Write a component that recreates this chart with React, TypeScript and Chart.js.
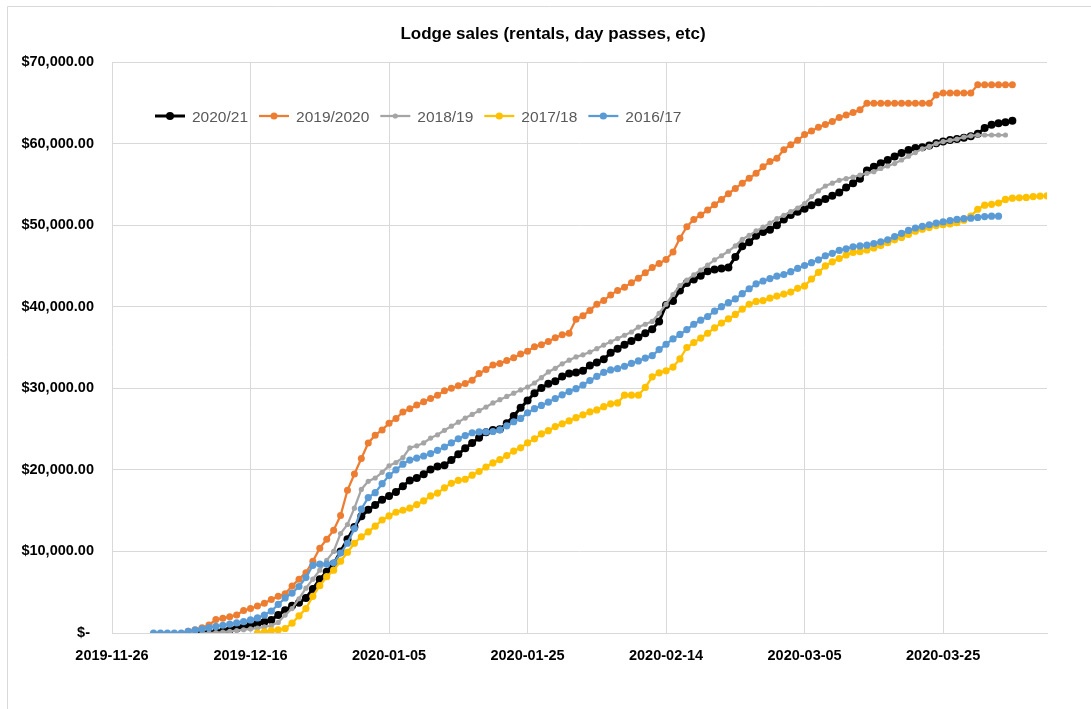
import React, { useEffect, useRef } from "react";
import { Chart, registerables } from "chart.js";

Chart.register(...registerables);

// ---- axis setup ----
const baseDateUTC = Date.UTC(2019, 10, 26); // day 0 = 2019-11-26
const xTickStep = 20; // days between date labels
const xMaxDay = 135;
const yMax = 70000;
const yStep = 10000;

const chartTitle = "Lodge sales (rentals, day passes, etc)";
const seriesNames = ["2020/21", "2019/2020", "2018/19", "2017/18", "2016/17"];
const seriesColors = ["#000000", "#ED7D31", "#A5A5A5", "#FFC000", "#5B9BD5"];

// ---- data: cumulative sales, one value per day, starting at the given day offset ----
const start2020_21 = 13;
const sales2020_21 = [
  0, 0, 100, 200, 400, 550, 750, 950, 1150, 1350,
  1600, 2200, 2800, 3350, 3700, 4300, 5400, 6600, 7500, 8500,
  10000, 11500, 13000, 14300, 15100, 15700, 16350, 16800, 17300, 18000,
  18700, 19000, 19450, 20050, 20400, 20550, 21200, 21900, 22650, 23300,
  23950, 24600, 24880, 24970, 25700, 26600, 27600, 28500, 29400, 30050,
  30550, 30850, 31450, 31800, 31950, 32150, 32800, 33150, 33550, 34350,
  34850, 35350, 35800, 36250, 36750, 37250, 38200, 40200, 40700, 42000,
  42900, 43350, 43800, 44350, 44550, 44700, 44800, 46100, 47400, 47900,
  48700, 49150, 49450, 50000, 50700, 51250, 51650, 52000, 52450, 52800,
  53200, 53600, 54000, 54600, 55150, 55700, 56700, 57150, 57600, 58000,
  58400, 58850, 59200, 59450, 59550, 59750, 60050, 60250, 60450, 60550,
  60700, 60900, 61200, 61900, 62300, 62500, 62600, 62800,
];

const start2019_2020 = 11;
const sales2019_2020 = [
  200, 400, 650, 980, 1650, 1800, 2000, 2200, 2750, 3000,
  3300, 3650, 4100, 4500, 4800, 5750, 6600, 7400, 8800, 10400,
  11500, 12600, 14400, 17500, 19500, 21400, 23300, 24250, 24900, 25700,
  26300, 27100, 27500, 27950, 28350, 28750, 29150, 29700, 30000, 30300,
  30600, 31000, 31800, 32300, 32850, 33050, 33400, 33750, 34200, 34550,
  35100, 35350, 35750, 36200, 36550, 36750, 38450, 38900, 39550, 40300,
  40750, 41450, 42000, 42400, 42950, 43500, 44150, 44800, 45300, 45800,
  46700, 48400, 49800, 50700, 51250, 51850, 52500, 53150, 53850, 54500,
  55150, 55750, 56350, 57150, 57800, 58200, 59250, 59850, 60400, 61100,
  61550, 62000, 62350, 62700, 63200, 63500, 63800, 64150, 64950, 64950,
  64950, 64950, 64950, 64950, 64950, 64950, 64950, 64950, 65950, 66200,
  66200, 66200, 66200, 66200, 67200, 67200, 67200, 67200, 67200, 67200,
];

const start2018_19 = 13;
const sales2018_19 = [
  0, 0, 50, 100, 200, 300, 400, 500, 600, 750,
  900, 1300, 2200, 3000, 4200, 5500, 6600, 7700, 8900, 10000,
  12200, 13300, 15300, 17600, 18600, 19000, 19700, 20500, 20900, 21500,
  22700, 22950, 23300, 23900, 24300, 24850, 25350, 25850, 26350, 26800,
  27250, 27700, 28200, 28600, 29000, 29400, 29800, 30150, 30650, 31300,
  32000, 32450, 33000, 33450, 33850, 34100, 34450, 34850, 35300, 35700,
  36100, 36500, 36900, 37500, 37850, 38200, 39200, 40300, 41500, 42600,
  43250, 43900, 44500, 45100, 45750, 46250, 46800, 47450, 48250, 48750,
  49300, 49750, 50250, 50800, 51200, 51650, 52100, 52650, 53500, 54200,
  54800, 55150, 55500, 55700, 55900, 56150, 56350, 56550, 56950, 57250,
  57550, 58000, 58450, 58900, 59350, 59650, 60000, 60250, 60400, 60550,
  60800, 60950, 61050, 61050, 61050, 61050, 61050,
];

const start2017_18 = 21;
const sales2017_18 = [
  0, 150, 280, 380, 550, 1200, 2100, 3000, 4500, 5800,
  6900, 7700, 8800, 9900, 11000, 11800, 12400, 13100, 13850, 14350,
  14800, 15050, 15300, 15750, 16200, 16800, 17150, 17800, 18350, 18700,
  18850, 19350, 19800, 20350, 20850, 21250, 21750, 22300, 22700, 23300,
  23800, 24400, 24800, 25300, 25650, 26000, 26400, 26750, 27100, 27350,
  27750, 28100, 28200, 29150, 29150, 29150, 30100, 31400, 31900, 32150,
  32600, 33600, 35000, 35600, 36150, 36750, 37400, 38000, 38500, 39050,
  39700, 40300, 40650, 40750, 41050, 41300, 41550, 41800, 42250, 42550,
  43400, 44200, 45000, 45500, 45900, 46350, 46650, 46750, 46950, 47200,
  47500, 47850, 48200, 48500, 48850, 49250, 49500, 49700, 49950, 50050,
  50150, 50300, 50600, 51100, 51950, 52450, 52550, 52700, 53150, 53300,
  53350, 53400, 53500, 53550, 53600,
];

const start2016_17 = 6;
const sales2016_17 = [
  0, 0, 0, 0, 0, 200, 350, 500, 650, 800,
  950, 1100, 1250, 1400, 1600, 1850, 2200, 2700, 3500, 4300,
  4900, 5700, 6800, 8300, 8450, 8450, 8600, 9800, 11000, 12800,
  15200, 16600, 17200, 18300, 19300, 20000, 20700, 21200, 21450, 21700,
  22000, 22400, 22800, 23300, 23800, 24200, 24550, 24650, 24650, 24700,
  24900, 25400, 25900, 26300, 27000, 27500, 27900, 28300, 28750, 29200,
  29600, 29950, 30400, 30950, 31450, 31950, 32250, 32400, 32700, 33050,
  33350, 33700, 34000, 34750, 35400, 36050, 36600, 37200, 37850, 38350,
  38800, 39450, 40000, 40500, 40950, 41600, 42200, 42800, 43150, 43450,
  43750, 43950, 44300, 44700, 45050, 45400, 45750, 46250, 46550, 46900,
  47100, 47350, 47450, 47550, 47750, 47950, 48200, 48600, 49000, 49350,
  49650, 49850, 50050, 50250, 50400, 50550, 50700, 50800, 50850, 50950,
  51050, 51100, 51100,
];

const seriesStarts = [start2020_21, start2019_2020, start2018_19, start2017_18, start2016_17];
const seriesValues = [sales2020_21, sales2019_2020, sales2018_19, sales2017_18, sales2016_17];

// ---- styles ----
const lineWidths = [3, 2.25, 2.25, 2.25, 2.25];
const markerRadii = [4, 3.5, 2.6, 3.6, 3.6];
const gridColor = "#D9D9D9";
const fontFamily = "'Liberation Sans', Arial, Helvetica, sans-serif";

function dayToLabel(day: number): string {
  const d = new Date(baseDateUTC + day * 86400000);
  return d.toISOString().slice(0, 10);
}

function moneyLabel(v: number): string {
  if (v === 0) return "$- ";
  return "$" + v.toLocaleString("en-US", { minimumFractionDigits: 2, maximumFractionDigits: 2 });
}

const decorPlugin = {
  id: "decor",
  beforeDraw(chart: any) {
    const ctx = chart.ctx;
    ctx.save();
    ctx.fillStyle = "#ffffff";
    ctx.fillRect(0, 0, chart.width, chart.height);
    ctx.restore();
  },
  afterDraw(chart: any) {
    const ctx = chart.ctx;
    ctx.save();
    // outer chart frame (extends beyond the visible window)
    ctx.strokeStyle = gridColor;
    ctx.lineWidth = 1;
    ctx.beginPath();
    ctx.moveTo(7.5, chart.height);
    ctx.lineTo(7.5, 6.5);
    ctx.lineTo(chart.width, 6.5);
    ctx.stroke();

    // title
    ctx.fillStyle = "#000000";
    ctx.font = `bold 17px ${fontFamily}`;
    ctx.textAlign = "center";
    ctx.textBaseline = "alphabetic";
    ctx.fillText(chartTitle, 553, 39);

    // legend inside plot area
    ctx.font = `15.5px ${fontFamily}`;
    ctx.textAlign = "left";
    let x = 155;
    const yLine = 116;
    seriesNames.forEach((name, i) => {
      const color = seriesColors[i];
      ctx.strokeStyle = color;
      ctx.lineWidth = lineWidths[i];
      ctx.beginPath();
      ctx.moveTo(x, yLine);
      ctx.lineTo(x + 30, yLine);
      ctx.stroke();
      ctx.fillStyle = color;
      ctx.beginPath();
      ctx.arc(x + 15, yLine, markerRadii[i], 0, Math.PI * 2);
      ctx.fill();
      ctx.fillStyle = "#595959";
      ctx.fillText(name, x + 37, 121.5);
      const w = ctx.measureText(name).width;
      x += 37 + w + 11;
    });
    ctx.restore();
  },
};

export default function App() {
  const canvasRef = useRef<HTMLCanvasElement | null>(null);

  useEffect(() => {
    if (!canvasRef.current) return;
    const datasets = seriesNames.map((name, i) => ({
      label: name,
      data: seriesValues[i].map((v, j) => ({ x: seriesStarts[i] + j, y: v })),
      borderColor: seriesColors[i],
      backgroundColor: seriesColors[i],
      pointBackgroundColor: seriesColors[i],
      pointBorderColor: seriesColors[i],
      pointBorderWidth: 0,
      pointRadius: markerRadii[i],
      borderWidth: lineWidths[i],
      tension: 0,
      fill: false,
      order: seriesNames.length - i,
    }));

    const chart = new Chart(canvasRef.current, {
      type: "line",
      data: { datasets },
      options: {
        animation: false,
        responsive: false,
        maintainAspectRatio: false,
        devicePixelRatio: 1,
        layout: { padding: { left: 0, top: 62, right: 44, bottom: 36 } },
        plugins: {
          legend: { display: false },
          title: { display: false },
          tooltip: { enabled: false },
        },
        scales: {
          x: {
            type: "linear",
            min: 0,
            max: xMaxDay,
            afterFit: (s: any) => {
              s.height = 40;
            },
            ticks: {
              stepSize: xTickStep,
              includeBounds: false,
              autoSkip: false,
              maxRotation: 0,
              padding: 14,
              color: "#000000",
              font: { family: fontFamily, size: 14.5, weight: "bold" },
              callback: (v: any) => dayToLabel(Number(v)),
            },
            grid: { color: gridColor, lineWidth: 1, drawTicks: false },
            border: { color: gridColor, width: 1 },
          },
          y: {
            min: 0,
            max: yMax,
            afterFit: (s: any) => {
              s.width = 112;
            },
            ticks: {
              stepSize: yStep,
              padding: 18,
              color: "#000000",
              font: { family: fontFamily, size: 14.5, weight: "bold" },
              callback: (v: any) => moneyLabel(Number(v)),
            },
            grid: { color: gridColor, lineWidth: 1, drawTicks: false },
            border: { display: false },
          },
        },
      },
      plugins: [decorPlugin],
    } as any);

    return () => {
      chart.destroy();
    };
  }, []);

  return (
    <div style={{ position: "fixed", left: 0, top: 0, width: 1091, height: 709, background: "#ffffff" }}>
      <canvas ref={canvasRef} width={1091} height={709} style={{ display: "block", width: 1091, height: 709 }} />
    </div>
  );
}
